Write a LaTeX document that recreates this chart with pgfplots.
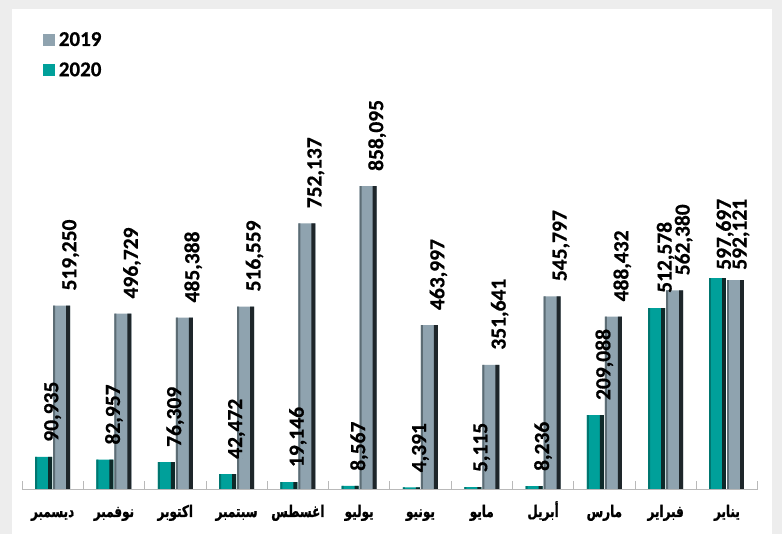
\documentclass[border=0pt]{standalone}
\usepackage{pgfplots}
\usepackage{pgfplotstable}
\pgfplotsset{compat=1.18}
\usepackage{fontspec}
\setmainfont{Carlito}[BoldFeatures={FakeBold=0.6}]
\newfontfamily\arabicfont[Script=Arabic, FakeStretch=0.75, FakeBold=1.2]{DejaVu Sans}
\TeXXeTstate=1
\definecolor{bggrey}{RGB}{237,237,237}
\definecolor{tealM}{RGB}{0,160,154}
\definecolor{tealE}{RGB}{0,118,112}
\definecolor{tealD}{RGB}{14,42,42}
\definecolor{greyM}{RGB}{143,163,175}
\definecolor{greyE}{RGB}{92,108,116}
\definecolor{greyD}{RGB}{30,38,42}
\definecolor{axgrey}{RGB}{185,185,185}
% 2019 (x = 0 ... 10, Dec ... Feb)
\pgfplotstableread{
x y
0 519250
1 496729
2 485388
3 516559
4 752137
5 858095
6 463997
7 351641
8 545797
9 488432
10 562380
}\greyA
% 2020
\pgfplotstableread{
x y
0 90935
1 82957
2 76309
3 42472
4 19146
5 8567
6 4391
7 5115
8 8236
9 209088
10 512578
}\tealA
% January (x = 11)
\pgfplotstableread{
x y
11 592121
}\greyJ
\pgfplotstableread{
x y
11 597697
}\tealJ
\begin{document}
\begin{tikzpicture}[x=1pt,y=1pt]
\useasboundingbox (0,0) rectangle (782,534);
\fill[bggrey] (0,0) rectangle (782,534);
\fill[white] (12,0) rectangle (772,525);
\begin{axis}[
  at={(22pt,45pt)}, anchor=south west,
  scale only axis, width=735.6pt, height=353pt,
  xmin=-0.5, xmax=11.5, ymin=0, ymax=1000000,
  clip=false,
  axis y line=none,
  axis x line*=bottom,
  axis line style={axgrey, line width=0.8pt},
  xtick={0,...,11},
  major tick length=0pt,
  minor xtick={-0.5,0.5,...,11.5},
  minor tick length=8pt,
  tick align=inside,
  minor tick style={axgrey, line width=0.8pt},
  xticklabels={{\beginR ديسمبر\endR},{\beginR نوفمبر\endR},{\beginR اكتوبر\endR},{\beginR سبتمبر\endR},{\beginR اغسطس\endR},{\beginR يوليو\endR},{\beginR يونيو\endR},{\beginR مايو\endR},{\beginR أبريل\endR},{\beginR مارس\endR},{\beginR فبراير\endR},{\beginR يناير\endR}},
  xticklabel style={font=\arabicfont\fontsize{16}{19}\selectfont\bfseries, anchor=base, yshift=-28pt},
  /pgf/number format/.cd, fixed, precision=0, 1000 sep={,}, assume math mode=true,
  /pgfplots/.cd,
  legend style={draw=none, fill=none, at={(rel axis cs:0.024,1.306)}, anchor=north west, font=\fontsize{21}{24}\selectfont\bfseries, row sep=11pt, nodes={inner ysep=2pt, inner xsep=4pt}},
  legend cell align=left,
  mylegend/.style={legend image code/.code={\path[##1,draw=none] (0pt,-6pt) rectangle (12pt,6pt);}},
  lab/.style 2 args={every node near coord/.style={xshift=#1, rotate=90, anchor=west, font=\fontsize{21.5}{24}\selectfont\bfseries, inner xsep=#2, inner ysep=0pt, text=black}},
]
% 2019 main bars with labels
\addplot[ybar, bar width=17pt, bar shift=9pt, fill=greyM, draw=none, mylegend, nodes near coords, lab={18pt}{15pt}] table {\greyA};
\addlegendentry{2019}
% 2020 main bars with labels
\addplot[ybar, bar width=17pt, bar shift=-9pt, fill=tealM, draw=none, mylegend, nodes near coords, lab={0pt}{15pt}] table {\tealA};
\addlegendentry{2020}
% January bars, labels moved aside
\addplot[ybar, bar width=17pt, bar shift=9pt, fill=greyM, draw=none, forget plot, nodes near coords, lab={14pt}{10pt}] table {\greyJ};
\addplot[ybar, bar width=17pt, bar shift=-9pt, fill=tealM, draw=none, forget plot, nodes near coords, lab={-2pt}{8pt}] table {\tealJ};
% bevel edges 2019
\addplot[ybar, bar width=4pt, bar shift=15.5pt, fill=greyD, draw=none, forget plot] table {\greyA};
\addplot[ybar, bar width=4pt, bar shift=15.5pt, fill=greyD, draw=none, forget plot] table {\greyJ};
\addplot[ybar, bar width=2pt, bar shift=1.5pt, fill=greyE, draw=none, forget plot] table {\greyA};
\addplot[ybar, bar width=2pt, bar shift=1.5pt, fill=greyE, draw=none, forget plot] table {\greyJ};
% bevel edges 2020
\addplot[ybar, bar width=4pt, bar shift=-2.5pt, fill=tealD, draw=none, forget plot] table {\tealA};
\addplot[ybar, bar width=4pt, bar shift=-2.5pt, fill=tealD, draw=none, forget plot] table {\tealJ};
\addplot[ybar, bar width=2pt, bar shift=-16.5pt, fill=tealE, draw=none, forget plot] table {\tealA};
\addplot[ybar, bar width=2pt, bar shift=-16.5pt, fill=tealE, draw=none, forget plot] table {\tealJ};
\end{axis}
\end{tikzpicture}
\end{document}
